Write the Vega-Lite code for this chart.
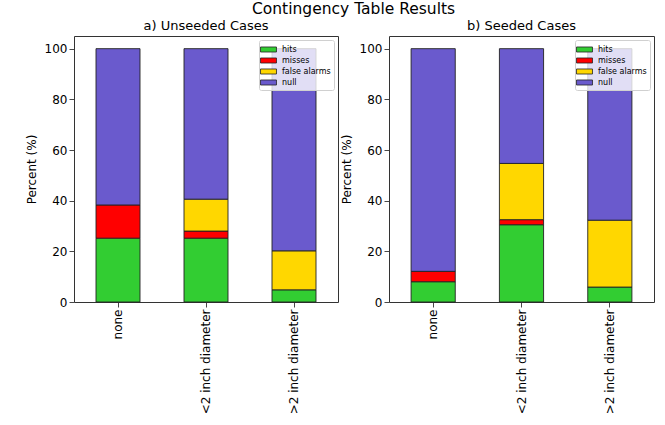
{
  "$schema": "https://vega.github.io/schema/vega-lite/v6.json",
  "padding": {"left": 24, "top": 2, "right": 8, "bottom": 5},
  "title": {
    "text": "Contingency Table Results",
    "fontSize": 15.5,
    "fontWeight": "normal",
    "font": "DejaVu Sans",
    "color": "#000",
    "anchor": "middle",
    "frame": "bounds",
    "dx": 14,
    "offset": 2
  },
  "datasets": {
    "unseeded": [
      {"size": "none", "outcome": "hits", "pct": 25.2},
      {"size": "none", "outcome": "misses", "pct": 13.1},
      {"size": "none", "outcome": "null", "pct": 61.7},
      {"size": "<2 inch diameter", "outcome": "hits", "pct": 25.2},
      {"size": "<2 inch diameter", "outcome": "misses", "pct": 2.8},
      {"size": "<2 inch diameter", "outcome": "false alarms", "pct": 12.6},
      {"size": "<2 inch diameter", "outcome": "null", "pct": 59.4},
      {"size": ">2 inch diameter", "outcome": "hits", "pct": 4.8},
      {"size": ">2 inch diameter", "outcome": "false alarms", "pct": 15.4},
      {"size": ">2 inch diameter", "outcome": "null", "pct": 79.8}
    ],
    "seeded": [
      {"size": "none", "outcome": "hits", "pct": 8.0},
      {"size": "none", "outcome": "misses", "pct": 4.1},
      {"size": "none", "outcome": "null", "pct": 87.9},
      {"size": "<2 inch diameter", "outcome": "hits", "pct": 30.5},
      {"size": "<2 inch diameter", "outcome": "misses", "pct": 2.0},
      {"size": "<2 inch diameter", "outcome": "false alarms", "pct": 22.2},
      {"size": "<2 inch diameter", "outcome": "null", "pct": 45.3},
      {"size": ">2 inch diameter", "outcome": "hits", "pct": 5.9},
      {"size": ">2 inch diameter", "outcome": "false alarms", "pct": 26.4},
      {"size": ">2 inch diameter", "outcome": "null", "pct": 67.7}
    ]
  },
  "hconcat": [
    {
      "title": {"text": "a) Unseeded Cases"},
      "width": 264,
      "height": 266,
      "data": {"name": "unseeded"},
      "transform": [
        {"calculate": "indexof(['hits','misses','false alarms','null'], datum.outcome)", "as": "stack_rank"}
      ],
      "mark": {"type": "bar", "stroke": "#222", "strokeWidth": 0.9},
      "encoding": {
        "x": {
          "field": "size", "type": "nominal",
          "sort": ["none", "<2 inch diameter", ">2 inch diameter"],
          "scale": {"paddingInner": 0.5, "paddingOuter": 0.25},
          "axis": {"title": null, "labelAngle": -90}
        },
        "y": {
          "field": "pct", "type": "quantitative", "stack": "zero",
          "scale": {"domain": [0, 105], "nice": false},
          "axis": {"title": "Percent (%)", "values": [0, 20, 40, 60, 80, 100]}
        },
        "color": {
          "field": "outcome", "type": "nominal",
          "scale": {
            "domain": ["hits", "misses", "false alarms", "null"],
            "range": ["#32cd32", "#ff0000", "#ffd700", "#6a5acd"]
          },
          "legend": {"title": null}
        },
        "order": {"field": "stack_rank", "type": "quantitative"}
      }
    },
    {
      "title": {"text": "b) Seeded Cases"},
      "width": 265,
      "height": 266,
      "data": {"name": "seeded"},
      "transform": [
        {"calculate": "indexof(['hits','misses','false alarms','null'], datum.outcome)", "as": "stack_rank"}
      ],
      "mark": {"type": "bar", "stroke": "#222", "strokeWidth": 0.9},
      "encoding": {
        "x": {
          "field": "size", "type": "nominal",
          "sort": ["none", "<2 inch diameter", ">2 inch diameter"],
          "scale": {"paddingInner": 0.5, "paddingOuter": 0.25},
          "axis": {"title": null, "labelAngle": -90}
        },
        "y": {
          "field": "pct", "type": "quantitative", "stack": "zero",
          "scale": {"domain": [0, 105], "nice": false},
          "axis": {"title": "Percent (%)", "values": [0, 20, 40, 60, 80, 100]}
        },
        "color": {
          "field": "outcome", "type": "nominal",
          "scale": {
            "domain": ["hits", "misses", "false alarms", "null"],
            "range": ["#32cd32", "#ff0000", "#ffd700", "#6a5acd"]
          },
          "legend": {"title": null}
        },
        "order": {"field": "stack_rank", "type": "quantitative"}
      }
    }
  ],
  "spacing": 0,
  "resolve": {"legend": {"color": "independent"}, "scale": {"y": "independent"}},
  "config": {
    "font": "DejaVu Sans",
    "view": {"stroke": "#333", "strokeWidth": 1},
    "title": {"fontSize": 13, "fontWeight": "normal", "color": "#000", "offset": 3, "frame": "group"},
    "axis": {
      "grid": false,
      "domain": false,
      "ticks": true,
      "tickColor": "#333",
      "tickSize": 5,
      "tickWidth": 0.9,
      "labelFontSize": 12,
      "labelColor": "#000",
      "labelPadding": 2,
      "titleFontSize": 12,
      "titleFontWeight": "normal",
      "titleColor": "#000",
      "titlePadding": 6
    },
    "legend": {
      "orient": "top-right",
      "offset": 4,
      "padding": 3,
      "rowPadding": 0,
      "fillColor": "rgba(255,255,255,0.8)",
      "strokeColor": "#d0d0d0",
      "cornerRadius": 2,
      "labelFontSize": 8,
      "labelColor": "#000",
      "labelOffset": 7,
      "symbolType": "M-1.33,-0.42H1.33V0.42H-1.33Z",
      "symbolSize": 144,
      "symbolStrokeColor": "#222",
      "symbolStrokeWidth": 0.8,
      "symbolOpacity": 1
    }
  }
}
